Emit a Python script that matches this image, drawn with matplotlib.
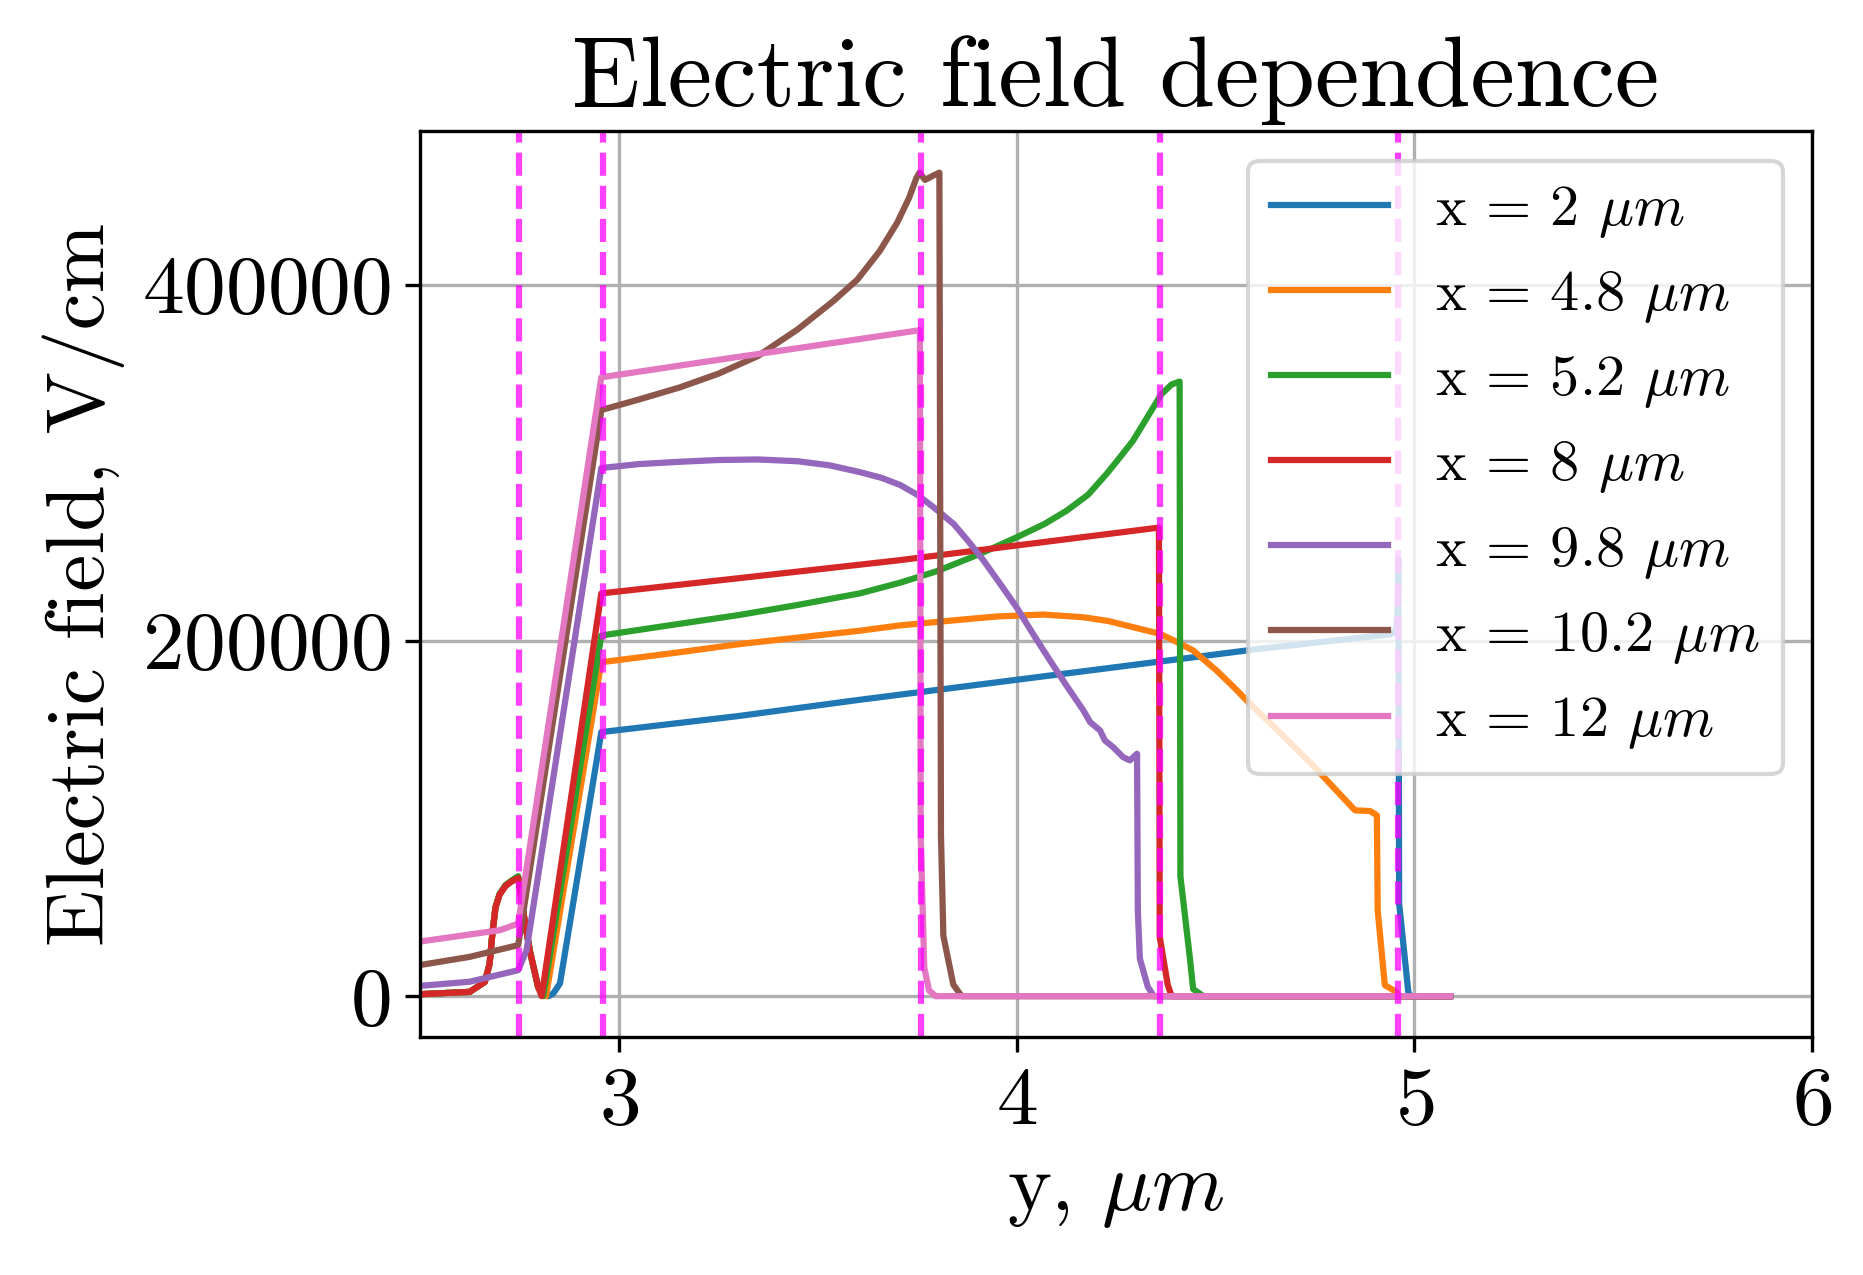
import numpy as np
import matplotlib
matplotlib.use('Agg')
import matplotlib.pyplot as plt

plt.rcParams['font.family'] = 'serif'
plt.rcParams['font.serif'] = ['cmr10']
plt.rcParams['mathtext.fontset'] = 'cm'
plt.rcParams['axes.formatter.use_mathtext'] = True
plt.rcParams['axes.unicode_minus'] = False

# y position (um) and field (V/cm) for each cut x
y_x2 = [2.5, 2.625, 2.663, 2.675, 2.682, 2.69, 2.70, 2.715, 2.73, 2.747, 2.759, 2.776, 2.797,
        2.823, 2.835, 2.852, 2.956, 3.3, 3.6, 4.6, 4.94, 4.955, 4.958, 4.96,
        4.962, 4.985, 4.99, 5.09]
e_x2 = [1100, 2400, 8000, 18000, 35000, 50000, 57000, 62000, 64500, 66500, 48300, 25800, 5200,
        0, 1500, 7100, 148500, 157500, 166500, 195000, 203500, 206000,
        215000, 246000, 52000, 2400, 0, 0]

y_x48 = [2.5, 2.625, 2.663, 2.675, 2.682, 2.69, 2.70, 2.715, 2.73, 2.747, 2.759, 2.776, 2.797,
         2.817, 2.956, 3.153, 3.304, 3.606, 3.707, 3.85, 3.95, 4.067, 4.167,
         4.23, 4.293, 4.36, 4.40, 4.444, 4.503, 4.545, 4.587, 4.64, 4.69, 4.74, 4.788, 4.851,
         4.889, 4.906, 4.908, 4.926, 4.955, 4.96, 5.09]
e_x48 = [1100, 2400, 8000, 18000, 35000, 50000, 57000, 62000, 64500, 66500, 48300, 25800, 5200,
         0, 187800, 193400, 198000, 205500, 208500, 211500, 213500, 214600,
         213100, 211000, 207500, 203800, 199500, 194400, 183100, 174000, 164400, 153000, 142000,
         131000, 119500, 104500, 104100, 101700, 48300, 6200, 2400, 0, 0]

y_x52 = [2.5, 2.625, 2.663, 2.675, 2.682, 2.69, 2.70, 2.715, 2.73, 2.747, 2.759, 2.776, 2.797, 2.81,
         2.956, 3.153, 3.304, 3.45, 3.606, 3.707, 3.8, 3.908, 4.0, 4.07, 4.126, 4.18, 4.226, 4.26,
         4.293, 4.33, 4.364, 4.39, 4.41, 4.412, 4.436, 4.444, 4.47, 5.09]
e_x52 = [1100, 2400, 8000, 18000, 35000, 50000, 57500, 62500, 65000, 67500, 48300, 25800, 5200, 0,
         202800, 209400, 214400, 220000, 226500, 232500, 239000, 248700, 258000, 265500, 273000,
         282000, 293600, 303000, 312400, 326000, 338500, 344000, 345600, 67400, 21100, 4000, 0, 0]

y_x8 = [2.5, 2.625, 2.663, 2.675, 2.682, 2.69, 2.70, 2.715, 2.73, 2.747, 2.759, 2.776, 2.797, 2.806,
        2.956, 3.3, 3.7, 4.358, 4.36, 4.38, 4.39, 5.09]
e_x8 = [1100, 2400, 8000, 18000, 35000, 50000, 57000, 62000, 64500, 66500, 48300, 25800, 5200, 0,
        226500, 235000, 245000, 263500, 33300, 6500, 0, 0]

y_x98 = [2.5, 2.625, 2.747, 2.768, 2.956, 3.05, 3.153, 3.25, 3.35, 3.45, 3.53, 3.606, 3.66, 3.707,
         3.75, 3.791, 3.842, 3.88, 3.917, 3.96, 4.0, 4.042, 4.084, 4.126, 4.168, 4.185, 4.21,
         4.222, 4.243, 4.268, 4.285, 4.303, 4.305, 4.31, 4.33, 4.345, 5.09]
e_x98 = [5800, 8100, 14600, 25800, 297000, 299200, 300500, 301500, 301800, 300800, 298500, 294700,
         291500, 287500, 282000, 275000, 265500, 255500, 245000, 231500, 218700, 203500, 188800,
         174500, 160700, 154100, 149400, 143800, 140000, 134400, 132600, 136300, 47900, 21100,
         5300, 0, 0]

y_x102 = [2.5, 2.625, 2.747, 2.956, 3.05, 3.153, 3.25, 3.35, 3.45, 3.54, 3.6, 3.656, 3.70, 3.73,
          3.748, 3.756, 3.77, 3.791, 3.806, 3.81, 3.816, 3.841, 3.862, 5.09]
e_x102 = [17500, 22100, 28700, 329600, 335500, 342300, 350000, 360000, 375000, 391000, 403000,
          419000, 435000, 449000, 460000, 463100, 459000, 461500, 463100, 90300, 33900, 6500, 0, 0]

y_x12 = [2.5, 2.701, 2.747, 2.956, 3.204, 3.757, 3.759, 3.768, 3.78, 3.797, 5.09]
e_x12 = [30700, 37100, 40800, 348000, 356300, 374500, 90000, 16100, 3200, 0, 0]

labels = ['x = 2 $\\mu m$', 'x = 4.8 $\\mu m$', 'x = 5.2 $\\mu m$', 'x = 8 $\\mu m$',
          'x = 9.8 $\\mu m$', 'x = 10.2 $\\mu m$', 'x = 12 $\\mu m$']
curves = [(y_x2, e_x2), (y_x48, e_x48), (y_x52, e_x52), (y_x8, e_x8),
          (y_x98, e_x98), (y_x102, e_x102), (y_x12, e_x12)]

# layer boundaries
borders = [2.75, 2.96, 3.76, 4.36, 4.96]

fig, ax = plt.subplots(figsize=(1864 / 300, 1275 / 300), dpi=300)
fig.subplots_adjust(left=0.2253, right=0.9721, top=0.8969, bottom=0.1864)

for (yy, ee), lab in zip(curves, labels):
    ax.plot(yy, ee, lw=1.5, label=lab)

for b in borders:
    ax.axvline(b, color='magenta', ls='--', lw=1.5, alpha=0.75)

ax.set_xlim(2.5, 6)
ax.set_xticks([3, 4, 5, 6])
ax.set_yticks([0, 200000, 400000])
ax.grid(True)
ax.tick_params(labelsize=20)

ax.set_title('Electric field dependence', fontsize=24)
ax.set_xlabel('y, $\\mu m$', fontsize=20)
ax.set_ylabel('Electric field, V/cm', fontsize=20)
ax.legend(loc='upper right', fontsize=14)

fig.savefig('out.png', dpi=300)
